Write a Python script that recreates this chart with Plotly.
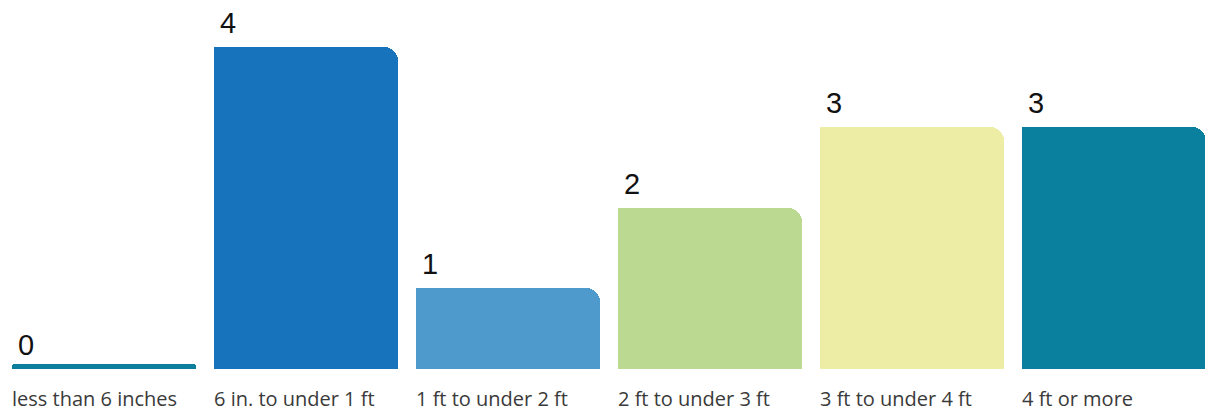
import plotly.graph_objects as go

# Snow depth categories and counts
categories = ["less than 6 inches", "6 in. to under 1 ft", "1 ft to under 2 ft",
              "2 ft to under 3 ft", "3 ft to under 4 ft", "4 ft or more"]
counts = [0, 4, 1, 2, 3, 3]
colors = ["#0b7f9d", "#1774bc", "#4e9acd", "#bcd991", "#eeeda5", "#0a809e"]

positions = list(range(len(categories)))
BAR_W = 0.911
STUB = 0.065         # thin marker shown for empty categories
Y_MAX = 4.578

fig = go.Figure()

# Full bars with rounded top corners
fig.add_trace(go.Bar(
    x=positions, y=counts, width=BAR_W,
    marker=dict(color=colors, cornerradius=14, line=dict(width=0)),
    hoverinfo="skip",
))
# Left half overlay keeps the top-left corner square
fig.add_trace(go.Bar(
    x=positions, y=counts, width=BAR_W / 2, offset=-BAR_W / 2,
    marker=dict(color=colors, cornerradius=0, line=dict(width=0)),
    hoverinfo="skip",
))
# Thin stub for zero-count categories
fig.add_trace(go.Bar(
    x=positions, y=[STUB if c == 0 else None for c in counts], width=BAR_W,
    marker=dict(color=colors, cornerradius=3, line=dict(width=0)),
    hoverinfo="skip",
))

annotations = []
for i, (cat, c) in enumerate(zip(categories, counts)):
    # value label above the bar, left aligned
    annotations.append(dict(
        x=i - BAR_W / 2, y=c, xref="x", yref="y",
        text=str(c), showarrow=False, xanchor="left", yanchor="bottom",
        xshift=4, yshift=6,
        font=dict(family="Liberation Sans, Arial, sans-serif", size=29, color="#111111"),
    ))
    # category label under the bar
    annotations.append(dict(
        x=i - BAR_W / 2, y=0, xref="x", yref="y",
        text=cat, showarrow=False, xanchor="left", yanchor="middle",
        xshift=-2, yshift=-29,
        font=dict(family="Open Sans, sans-serif", size=20, color="#3a3a3a"),
    ))

fig.update_layout(
    width=1205, height=411,
    margin=dict(l=0, r=0, t=0, b=42),
    barmode="overlay",
    bargap=0,
    showlegend=False,
    plot_bgcolor="white",
    paper_bgcolor="white",
    annotations=annotations,
    xaxis=dict(range=[-0.515, 5.453], visible=False, fixedrange=True),
    yaxis=dict(range=[0, Y_MAX], visible=False, fixedrange=True),
)

fig.write_html("out.html")
